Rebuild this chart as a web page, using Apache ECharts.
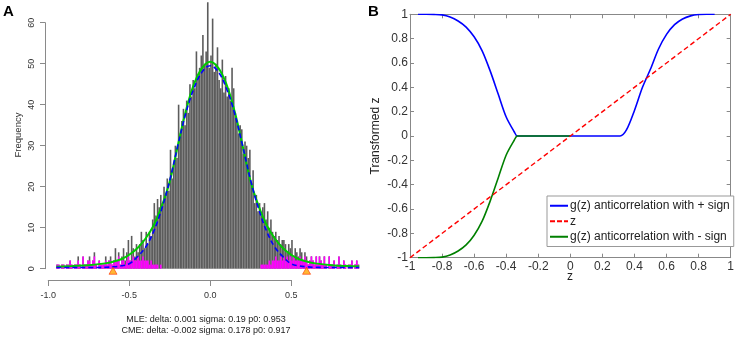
<!DOCTYPE html>
<html><head><meta charset="utf-8">
<script src="https://cdn.jsdelivr.net/npm/echarts@6/dist/echarts.min.js"></script>
<style>html,body{margin:0;padding:0;background:#fff}#c{width:737px;height:338px}</style>
</head><body><div id="c"></div>
<script>
// ---------- Panel A data ----------
const histStart = -0.95;     // left edge of the first bin
const binWidth = 0.01;
const grayCounts = [
  1,1,0,1,1,0,1,1,2,1,
  0,1,1,3,1,0,3,1,1,2,
  3,1,2,4,1,0,2,1,1,1,
  3,1,2,3,1,2,5,2,4,1,
  3,5,2,4,7,2,8,5,3,6,
  4,6,9,7,5,9,6,9,8,12,
  16,13,17,15,18,16,20,18,22,19,
  29,22,26,30,27,40,33,36,39,35,
  41,38,45,42,46,44,53,47,49,52,
  57,50,53,65,49,52,61,48,50,54,
  46,44,51,43,47,42,44,41,49,44,
  38,36,33,35,34,28,31,30,27,29,
  21,24,16,18,14,16,13,15,16,12,
  14,10,12,9,8,9,7,8,6,7,
  7,6,4,6,5,7,3,5,4,3,
  5,4,2,4,3,1,2,3,2,1,
  3,1,3,2,1,3,1,0,3,1,
  1,2,0,1,3,1,0,2,1,0,
  1,1,2,0,1,2,1
];
const magLeftStart = -0.95;
const magLeftCounts = [
  1,1,0,1,1,0,1,1,2,1,
  0,1,1,2,1,0,3,1,1,2,
  2,1,2,3,1,0,2,1,1,1,
  2,1,2,2,1,2,2,2,3,1,
  2,2,1,2,3,2,2,3,2,2,
  3,2,2,3,2,2,2,1,2,1,
  1,1,1,0,1
];
const magRightStart = 0.30;
const magRightCounts = [
  0,1,1,1,1,
  1,2,1,2,2,3,2,2,3,2,
  3,2,3,2,3,2,3,2,2,2,
  3,2,2,3,2,1,2,3,2,1,
  3,1,3,2,1,3,1,0,3,1,
  1,2,0,1,3,1,0,2,1,0,
  1,1,2,0,1,2,1
];
const fitZ = [-0.95,-0.85,-0.75,-0.65,-0.6,-0.55,-0.5,-0.45,-0.4,-0.35,-0.3,-0.25,-0.2,-0.15,-0.1,-0.05,0,0.05,0.1,0.15,0.2,0.25,0.3,0.35,0.4,0.45,0.5,0.55,0.6,0.65,0.75,0.85,0.92];
const cmeFit = [0.5,0.65,0.85,1.3,1.7,2.3,3.4,5.0,7.3,10.5,15.2,21.2,30.0,38.5,45.0,49.0,50.5,49.0,45.0,38.5,30.0,21.2,15.2,10.5,7.3,5.0,3.4,2.3,1.7,1.3,0.85,0.65,0.6];
const mleFit = [0.3,0.3,0.3,0.35,0.45,0.7,1.2,2.9,5.2,9.0,14.5,21.5,30.0,38.0,44.0,48.0,49.5,48.0,44.0,38.0,30.0,21.5,14.5,9.0,5.2,2.9,1.2,0.7,0.45,0.35,0.3,0.3,0.3];
const markerZ = [-0.6, 0.595];
const markerY = [-0.5, -0.5];
const xTicksA = [-1.0, -0.5, 0.0, 0.5];
const yTicksA = [0, 10, 20, 30, 40, 50, 60];
const statsText = ['MLE: delta: 0.001 sigma: 0.19 p0: 0.953', 'CME: delta: -0.002 sigma: 0.178 p0: 0.917'];

// ---------- Panel B data ----------
const plusZ = [-0.95,-0.9,-0.85,-0.8,-0.75,-0.7,-0.65,-0.6,-0.55,-0.5,-0.45,-0.4,-0.35,-0.33,0.31,0.35,0.4,0.45,0.5,0.55,0.6,0.65,0.7,0.75,0.8,0.85,0.9];
const plusG = [1.0,1.0,0.999,0.995,0.978,0.945,0.895,0.815,0.70,0.535,0.345,0.156,0.035,0.0,0.0,0.05,0.21,0.40,0.55,0.715,0.835,0.915,0.962,0.987,0.998,1.0,1.0];
const minusZ = [-0.95,-0.9,-0.85,-0.8,-0.75,-0.7,-0.65,-0.6,-0.55,-0.5,-0.45,-0.4,-0.35,-0.33,0.0];
const minusG = [-1.0,-1.0,-0.999,-0.995,-0.978,-0.945,-0.895,-0.815,-0.70,-0.535,-0.345,-0.156,-0.035,0.0,0.0];
const identZ = [-1, 1];
const legendNames = ['g(z) anticorrelation with + sign', 'z', 'g(z) anticorrelation with - sign'];

// ---------- build ----------
const pairs = (xs, ys) => xs.map((x, i) => [x, ys[i]]);
const binPairs = (start, arr) => arr.map((v, i) => [+(start + (i + 0.5) * binWidth).toFixed(4), v]);
const FONT = 'Liberation Sans, Arial, sans-serif';
const fmtB = v => Math.abs(v) < 1e-9 ? '0' : String(+v.toFixed(1));

const chart = echarts.init(document.getElementById('c'), null, {renderer: 'canvas'});
const axisGrayA = '#8a8a8a';
const boxGray = '#888';
const solidIcon = 'path://M0,0h18v2h-18z';
const dashIcon = 'path://M0,0h5v2h-5z M7,0h5v2h-5z M14,0h4v2h-4z';
const boxAxis = (extra) => Object.assign({
  type: 'value', min: -1, max: 1, interval: 0.2,
  axisLine: {show: true, onZero: false, lineStyle: {color: boxGray}},
  axisTick: {show: true, inside: true, length: 4, lineStyle: {color: boxGray}},
  splitLine: {show: false}
}, extra);

chart.setOption({
  animation: false,
  backgroundColor: '#fff',
  grid: [
    {left: 45, top: 0.15, width: 315, height: 276.75},
    {left: 45, top: 22.7, width: 10, height: 246},
    {left: 48.24, top: 279, width: 243, height: 1},
    {left: 410, top: 14.3, width: 322.3, height: 243.4}
  ],
  xAxis: [
    {gridIndex: 0, type: 'value', min: -1.02, max: 0.925, show: false},
    {gridIndex: 0, type: 'value', min: -1.02, max: 0.925, show: false},
    {gridIndex: 2, type: 'value', min: xTicksA[0], max: xTicksA[xTicksA.length-1], interval: 0.5,
      axisLine: {show: true, onZero: false, lineStyle: {color: axisGrayA, width: 1}},
      axisTick: {show: true, length: 6, lineStyle: {color: axisGrayA}},
      axisLabel: {margin: 11, fontFamily: FONT, fontSize: 9, color: '#333', formatter: v => v.toFixed(1)},
      splitLine: {show: false}},
    boxAxis({gridIndex: 3, position: 'bottom',
      axisLabel: {margin: 3, fontFamily: FONT, fontSize: 12, color: '#333', formatter: fmtB}}),
    boxAxis({gridIndex: 3, position: 'top', axisLabel: {show: false}}),
    {gridIndex: 1, type: 'value', min: 0, max: 1, show: false}
  ],
  yAxis: [
    {gridIndex: 0, type: 'value', min: -2, max: 65.5, show: false},
    {gridIndex: 1, type: 'value', min: yTicksA[0], max: yTicksA[yTicksA.length-1], interval: 10, position: 'left',
      axisLine: {show: true, onZero: false, lineStyle: {color: axisGrayA}},
      axisTick: {show: true, length: 5, lineStyle: {color: axisGrayA}},
      axisLabel: {rotate: 90, margin: 9, fontFamily: FONT, fontSize: 9, color: '#333'},
      splitLine: {show: false}},
    {gridIndex: 2, type: 'value', min: 0, max: 1, show: false},
    boxAxis({gridIndex: 3, position: 'left',
      axisLabel: {margin: 2, fontFamily: FONT, fontSize: 12, color: '#333', formatter: fmtB}}),
    boxAxis({gridIndex: 3, position: 'right', axisLabel: {show: false}})
  ],
  legend: {
    data: [
      {name: legendNames[0], icon: solidIcon, itemStyle: {color: '#0000ff'}},
      {name: legendNames[1], icon: dashIcon, itemStyle: {color: '#ff0000'}},
      {name: legendNames[2], icon: solidIcon, itemStyle: {color: '#008000'}}
    ],
    orient: 'vertical', left: 547, top: 196,
    padding: [3, 4, 3, 3], itemGap: 2, itemWidth: 18, itemHeight: 2,
    backgroundColor: '#fff', borderColor: '#999', borderWidth: 1, borderRadius: 0,
    textStyle: {fontFamily: FONT, fontSize: 12, color: '#222', lineHeight: 13.5, padding: [0, 0, 0, -3]},
    selectedMode: false
  },
  graphic: [
    {type: 'text', x: 3, y: 4, style: {text: 'A', font: 'bold 15px ' + FONT, fill: '#000'}},
    {type: 'text', x: 368, y: 4, style: {text: 'B', font: 'bold 15px ' + FONT, fill: '#000'}},
    {type: 'text', x: 18, y: 135, rotation: Math.PI / 2,
      style: {text: 'Frequency', font: '9.5px ' + FONT, fill: '#333', textAlign: 'center', textVerticalAlign: 'middle', verticalAlign: 'middle'}},
    {type: 'text', x: 206, y: 319.5,
      style: {text: statsText[0], font: '9px ' + FONT, fill: '#222', textAlign: 'center', textVerticalAlign: 'middle', verticalAlign: 'middle'}},
    {type: 'text', x: 206, y: 330.5,
      style: {text: statsText[1], font: '9px ' + FONT, fill: '#222', textAlign: 'center', textVerticalAlign: 'middle', verticalAlign: 'middle'}},
    {type: 'text', x: 376, y: 136, rotation: Math.PI / 2,
      style: {text: 'Transformed z', font: '12px ' + FONT, fill: '#222', textAlign: 'center', textVerticalAlign: 'middle', verticalAlign: 'middle'}},
    {type: 'text', x: 570, y: 277,
      style: {text: 'z', font: '12px ' + FONT, fill: '#222', textAlign: 'center', textVerticalAlign: 'middle', verticalAlign: 'middle'}}
  ],
  series: [
    {name: 'hist', type: 'bar', xAxisIndex: 0, yAxisIndex: 0, data: binPairs(histStart, grayCounts),
      barWidth: 1.6, itemStyle: {color: '#5c5c5c'}, silent: true, z: 2},
    {name: 'tailL', type: 'bar', xAxisIndex: 1, yAxisIndex: 0, data: binPairs(magLeftStart, magLeftCounts),
      barWidth: 1.6, itemStyle: {color: '#ff00ff'}, silent: true, z: 3},
    {name: 'tailR', type: 'bar', xAxisIndex: 1, yAxisIndex: 0, data: binPairs(magRightStart, magRightCounts),
      barWidth: 1.6, barGap: '-100%', itemStyle: {color: '#ff00ff'}, silent: true, z: 3},
    {name: 'CME', type: 'line', xAxisIndex: 0, yAxisIndex: 0, data: pairs(fitZ, cmeFit), smooth: 0.4,
      showSymbol: false, lineStyle: {color: '#00cc00', width: 2}, z: 4},
    {name: 'MLE', type: 'line', xAxisIndex: 0, yAxisIndex: 0, data: pairs(fitZ, mleFit), smooth: 0.4,
      showSymbol: false, lineStyle: {color: '#0000ff', width: 1.6, type: [5, 3]}, z: 5},
    {name: 'cut', type: 'scatter', xAxisIndex: 0, yAxisIndex: 0, data: pairs(markerZ, markerY),
      symbol: 'triangle', symbolSize: [8, 7], itemStyle: {color: '#ffa500', borderColor: '#ff3300', borderWidth: 0.8}, z: 6},
    {name: legendNames[0], type: 'line', xAxisIndex: 3, yAxisIndex: 3, data: pairs(plusZ, plusG), smooth: 0.3,
      showSymbol: false, symbol: 'none', lineStyle: {color: '#0000ff', width: 1.6}, itemStyle: {color: '#0000ff'}, z: 3},
    {name: legendNames[2], type: 'line', xAxisIndex: 3, yAxisIndex: 3, data: pairs(minusZ, minusG), smooth: 0.3,
      showSymbol: false, symbol: 'none', lineStyle: {color: '#008000', width: 1.6}, itemStyle: {color: '#008000'}, z: 4},
    {name: legendNames[1], type: 'line', xAxisIndex: 3, yAxisIndex: 3, data: pairs(identZ, identZ),
      showSymbol: false, symbol: 'none', lineStyle: {color: '#ff0000', width: 1.4, type: [5, 3]}, itemStyle: {color: '#ff0000'}, z: 5}
  ]
});
</script></body></html>
